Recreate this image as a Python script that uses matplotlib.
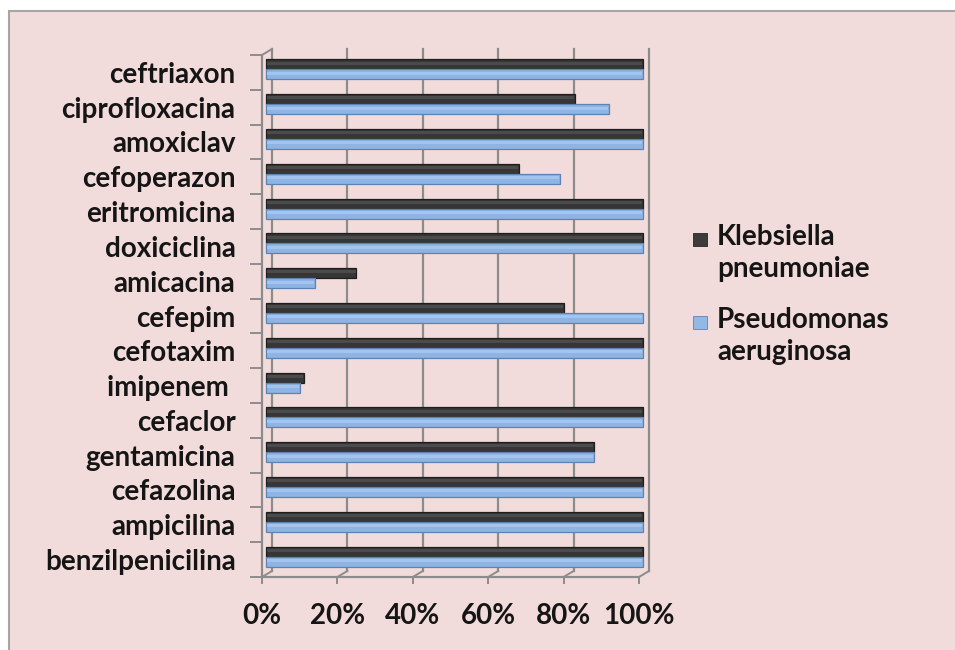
import matplotlib
matplotlib.use("Agg")
import matplotlib.pyplot as plt
from matplotlib.patches import Rectangle

# data (% of resistant strains)
categories = ["benzilpenicilina", "ampicilina", "cefazolina", "gentamicina", "cefaclor",
              "imipenem ", "cefotaxim", "cefepim", "amicacina", "doxiciclina",
              "eritromicina", "cefoperazon", "amoxiclav", "ciprofloxacina", "ceftriaxon"]
klebsiella = [100, 100, 100, 87, 100, 10, 100, 79, 24, 100, 100, 67, 100, 82, 100]
pseudomonas = [100, 100, 100, 87, 100, 9, 100, 100, 13, 100, 100, 78, 100, 91, 100]
series_names = ["Klebsiella\npneumoniae", "Pseudomonas\naeruginosa"]
xticks = [0, 20, 40, 60, 80, 100]
xlabels = ["0%", "20%", "40%", "60%", "80%", "100%"]

plt.rcParams['font.family'] = ['Lato', 'DejaVu Sans']
plt.rcParams['font.weight'] = 'bold'
FS = 20

W, H = 955, 650
fig = plt.figure(figsize=(W / 100, H / 100), dpi=100)
fig.patch.set_facecolor("white")

def fx(x):
    return x / W

def fy(y):
    return 1 - y / H

# pink chart area with grey border
fig.patches.append(Rectangle((fx(9), -0.01), 1.0, fy(11) + 0.01, transform=fig.transFigure,
                             facecolor="#F2DCDB", edgecolor="#A6A6A6", lw=1.5, zorder=-10))

# front box of the (fake) 3d plot
left, right, top, bottom = 262, 639, 55, 577
ax = fig.add_axes([fx(left), fy(bottom), fx(right) - fx(left), fy(top) - fy(bottom)])
ax.set_facecolor("none")
n = len(categories)
ax.set_xlim(0, 100)
ax.set_ylim(-0.5, n - 0.5)

# depth offset in data units
px_x = 100 / (right - left)
px_y = n / (bottom - top)
dx, dy = 10 * px_x, 6 * px_y
grid_c = "#8C8C8C"

# back wall grid lines
for t in xticks:
    ax.plot([t + dx, t + dx], [-0.5 + dy, n - 0.5 + dy], color=grid_c, lw=1.6,
            clip_on=False, zorder=1)
    # floor diagonals
    ax.plot([t, t + dx], [-0.5, -0.5 + dy], color=grid_c, lw=1.4, clip_on=False, zorder=1)
# left wall diagonals
ax.plot([0, dx], [n - 0.5, n - 0.5 + dy], color=grid_c, lw=1.4, clip_on=False, zorder=1)

# bars, with a slightly lighter strip on top to fake the 3d shading
bx, by = 4 * px_x, 3 * px_y
h = 0.29
ys = [i + by for i in range(n)]
series = [(klebsiella, +1, "#363636", "#4B4B4B", "#1E1E1E"),
          (pseudomonas, -1, "#8DB4E2", "#A2C4EE", "#5E83B2")]
for vals, side, body, light, edge in series:
    yy = [y + side * h / 2 for y in ys]
    ax.barh(yy, vals, left=bx, height=h, color=body, edgecolor=edge, lw=0.9,
            zorder=3, clip_on=False)
    ax.barh([y + h * 0.12 for y in yy], [v - 0.4 for v in vals], left=bx + 0.2,
            height=h * 0.3, color=light, lw=0, zorder=4, clip_on=False)

# axes styling
for s in ["top", "right"]:
    ax.spines[s].set_visible(False)
for s in ["left", "bottom"]:
    ax.spines[s].set_color(grid_c)
    ax.spines[s].set_linewidth(1.6)
ax.set_xticks(xticks)
ax.set_xticklabels(xlabels, fontsize=FS, fontweight="bold", color="#151515")
ax.tick_params(axis="x", length=5, width=1.4, color=grid_c, pad=14)
ax.set_yticks(range(n))
ax.set_yticklabels(categories, fontsize=FS, fontweight="bold", color="#151515")
ax.set_yticks([i - 0.5 for i in range(n + 1)], minor=True)
ax.tick_params(axis="y", which="major", length=0, pad=19)
ax.tick_params(axis="y", which="minor", length=9, width=1.4, color=grid_c)

# legend
colors = ["#3C3C3C", "#92B8E4"]
edges = ["#262626", "#5F84B3"]
for i, name in enumerate(series_names):
    yc = [239, 322][i]
    fig.patches.append(Rectangle((fx(693), fy(yc + 6.5)), 14 / W, 13 / H,
                                 transform=fig.transFigure, facecolor=colors[i],
                                 edgecolor=edges[i], lw=0.6))
    fig.text(fx(717), fy(yc - 15), name, fontsize=FS, fontweight="bold",
             color="#151515", va="top", ha="left", linespacing=1.3)

fig.savefig("out.png", dpi=100, facecolor=fig.get_facecolor())
